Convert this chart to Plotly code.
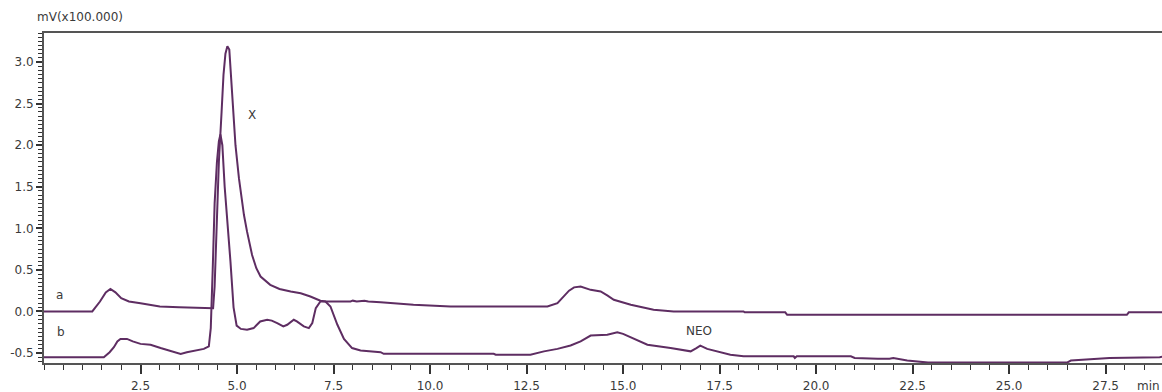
import plotly.graph_objects as go

# ---- data ----
time_a = [0.0, 1.25, 1.45, 1.6, 1.72, 1.85, 2.0, 2.2, 2.5, 2.8, 3.0, 3.5, 4.0, 4.38,
          4.42, 4.47, 4.53, 4.6, 4.65, 4.7, 4.75, 4.8, 4.85, 4.9, 4.96, 5.05, 5.18,
          5.26, 5.39, 5.5, 5.61, 5.86, 6.1, 6.39, 6.65, 6.9, 7.16, 7.3, 7.94, 8.0,
          8.1, 8.3, 8.4, 8.72, 8.98, 9.57, 10.53, 13.04, 13.3, 13.47, 13.6, 13.73,
          13.9, 14.16, 14.42, 14.6, 14.76, 15.2, 15.79, 16.31, 18.12, 18.15, 19.2,
          19.25, 28.05, 28.1, 29.0]
signal_a = [0.0, 0.0, 0.12, 0.23, 0.27, 0.23, 0.16, 0.12, 0.10, 0.08, 0.06, 0.05, 0.04, 0.04,
            0.3, 1.0, 1.8, 2.4, 2.85, 3.1, 3.19, 3.15, 2.75, 2.35, 2.0, 1.6, 1.16,
            0.96, 0.68, 0.52, 0.42, 0.32, 0.27, 0.24, 0.22, 0.18, 0.13, 0.12, 0.12, 0.13,
            0.12, 0.13, 0.12, 0.11, 0.10, 0.08, 0.06, 0.06, 0.10, 0.18, 0.25, 0.29,
            0.30, 0.26, 0.24, 0.19, 0.14, 0.08, 0.02, 0.0, 0.0, -0.01, -0.01,
            -0.04, -0.04, -0.01, -0.01]

time_b = [0.0, 1.55, 1.7, 1.81, 1.9, 1.98, 2.15, 2.3, 2.5, 2.76, 3.02, 3.36, 3.54, 3.7,
          3.9, 4.14, 4.27, 4.32, 4.37, 4.42, 4.48, 4.53, 4.57, 4.62, 4.68, 4.75, 4.83,
          4.91, 4.99, 5.1, 5.26, 5.43, 5.6, 5.78, 5.9, 6.04, 6.2, 6.3, 6.4, 6.47, 6.55,
          6.73, 6.86, 6.95, 7.04, 7.16, 7.29, 7.42, 7.6, 7.77, 7.98, 8.2, 8.72, 8.8,
          11.65, 11.7, 12.6, 12.95, 13.3, 13.64, 13.9, 14.16, 14.59, 14.85, 15.0, 15.27,
          15.63, 16.23, 16.75, 16.9, 17.0, 17.18, 17.53, 17.78, 18.12, 19.42, 19.45,
          19.5, 20.9, 21.0, 21.6, 21.9, 22.0, 22.36, 22.9, 26.5, 26.6, 27.6, 28.9, 29.0]
signal_b = [-0.55, -0.55, -0.49, -0.43, -0.36, -0.33, -0.33, -0.36, -0.39, -0.40, -0.44, -0.49, -0.51, -0.49,
            -0.47, -0.45, -0.42, -0.2, 0.5, 1.3, 1.8, 2.05, 2.13, 2.0, 1.5, 1.1, 0.6,
            0.05, -0.17, -0.21, -0.22, -0.20, -0.12, -0.10, -0.11, -0.14, -0.18, -0.16, -0.12, -0.10, -0.12,
            -0.18, -0.20, -0.14, 0.04, 0.12, 0.12, 0.06, -0.16, -0.33, -0.44, -0.47, -0.49, -0.51,
            -0.51, -0.52, -0.52, -0.48, -0.45, -0.41, -0.36, -0.29, -0.28, -0.25, -0.27, -0.33,
            -0.40, -0.44, -0.48, -0.44, -0.41, -0.45, -0.49, -0.52, -0.54, -0.54, -0.56,
            -0.54, -0.54, -0.56, -0.57, -0.57, -0.56, -0.59, -0.615, -0.615, -0.59, -0.56, -0.55, -0.54]

x_tick_vals = [2.5, 5.0, 7.5, 10.0, 12.5, 15.0, 17.5, 20.0, 22.5, 25.0, 27.5]
x_tick_text = ["2.5", "5.0", "7.5", "10.0", "12.5", "15.0", "17.5", "20.0", "22.5", "25.0", "27.5"]
y_tick_vals = [-0.5, 0.0, 0.5, 1.0, 1.5, 2.0, 2.5, 3.0]
y_tick_text = ["-0.5", "0.0", "0.5", "1.0", "1.5", "2.0", "2.5", "3.0"]

LINE = "#5e2d62"
TXT = "#3a3a3a"
AX = "#555555"
FONT = "DejaVu Sans"

fig = go.Figure()
fig.add_trace(go.Scatter(x=time_a, y=signal_a, mode="lines", name="a",
                         line=dict(color=LINE, width=2), showlegend=False))
fig.add_trace(go.Scatter(x=time_b, y=signal_b, mode="lines", name="b",
                         line=dict(color=LINE, width=2), showlegend=False))

ann = dict(font=dict(family=FONT, size=12, color=TXT), showarrow=False)
fig.add_annotation(x=5.4, y=2.36, text="X", **ann)
fig.add_annotation(x=16.97, y=-0.24, text="NEO", **ann)
fig.add_annotation(x=0.4, y=0.2, text="a", **ann)
fig.add_annotation(x=0.43, y=-0.25, text="b", **ann)
fig.add_annotation(xref="paper", yref="paper", x=0, y=1, xanchor="left", yanchor="middle",
                   xshift=-9, yshift=16, text="mV(x100.000)", **ann)
fig.add_annotation(x=28.25, xanchor="left", yref="paper", y=0, yanchor="middle", yshift=-23,
                   text="min", **ann)

fig.update_layout(
    width=1162, height=392,
    margin=dict(l=44, r=0, t=33, b=29),
    paper_bgcolor="white", plot_bgcolor="white",
    font=dict(family=FONT, size=12, color=TXT),
)
fig.update_xaxes(range=[0, 28.96], showgrid=False, zeroline=False,
                 showline=True, linecolor=AX, linewidth=2, mirror=True,
                 tickmode="array", tickvals=x_tick_vals, ticktext=x_tick_text,
                 ticks="outside", ticklen=9, tickwidth=1.5, tickcolor="#333",
                 ticklabelstandoff=2,
                 minor=dict(tickmode="linear", tick0=0, dtick=0.5, ticks="outside",
                            ticklen=5, tickwidth=1.2, tickcolor="#333"),
                 tickfont=dict(family=FONT, size=12, color=TXT))
fig.update_yaxes(range=[-0.62, 3.35], showgrid=False, zeroline=False,
                 showline=True, linecolor=AX, linewidth=2,
                 tickmode="array", tickvals=y_tick_vals, ticktext=y_tick_text,
                 ticks="outside", ticklen=6, tickwidth=1.5, tickcolor="#333",
                 minor=dict(tickmode="linear", tick0=0, dtick=0.05, ticks="outside",
                            ticklen=4, tickwidth=1.2, tickcolor="#333"),
                 tickfont=dict(family=FONT, size=12, color=TXT))

fig.write_html("out.html")
